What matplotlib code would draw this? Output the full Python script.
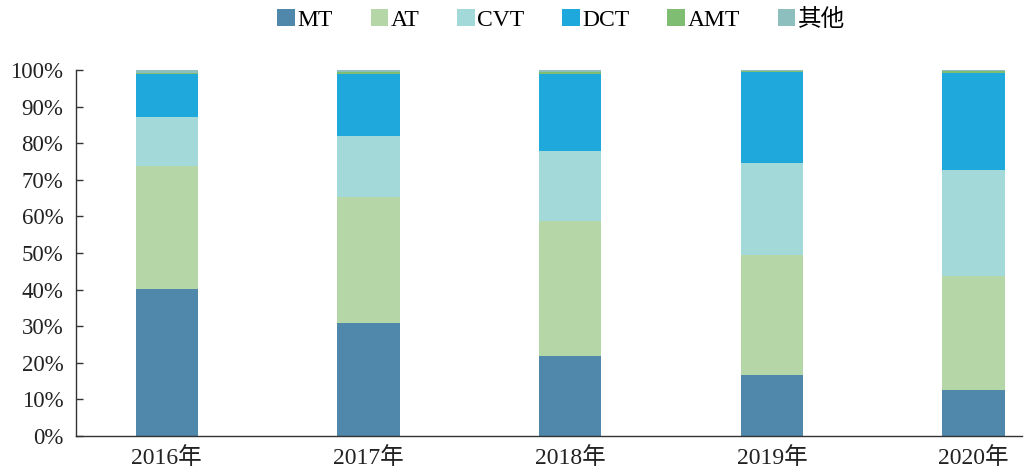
import matplotlib
matplotlib.use("Agg")
import matplotlib.pyplot as plt
import numpy as np

plt.rcParams['font.family'] = ['Liberation Serif', 'Noto Sans CJK SC']

years = ['2016年', '2017年', '2018年', '2019年', '2020年']
series_names = ['MT', 'AT', 'CVT', 'DCT', 'AMT', '其他']
MT = [40.2, 30.9, 21.9, 16.7, 12.6]
AT = [33.7, 34.4, 36.8, 32.8, 31.1]
CVT = [13.2, 16.7, 19.2, 25.1, 29.0]
DCT = [11.7, 16.9, 21.0, 24.9, 26.5]
AMT = [0.5, 0.6, 0.6, 0.1, 0.4]
OTHER = [0.7, 0.5, 0.5, 0.4, 0.4]
colors = ['#4f88ab', '#b5d7a8', '#a3d9d8', '#1fa8dc', '#7fbd72', '#8dbfbe']

fig = plt.figure(figsize=(10.24, 4.70), dpi=100)
ax = fig.add_axes([76/1024, 1-436/470, (1022-76)/1024, (436-70)/470])

x = np.arange(len(years))
bottom = np.zeros(len(years))
handles = []
for name, vals, c in zip(series_names, [MT, AT, CVT, DCT, AMT, OTHER], colors):
    v = np.array(vals) / 100.0
    b = ax.bar(x, v, bottom=bottom, width=0.31, color=c, edgecolor='none', linewidth=0, label=name)
    handles.append(b)
    bottom += v

ax.set_xlim(-0.45, 4.24)
ax.set_ylim(0, 1)
ax.set_yticks(np.arange(0, 1.01, 0.1))
ax.set_yticklabels([f'{int(round(t*100))}%' for t in np.arange(0, 1.01, 0.1)], fontsize=16.5, color='#222222')
ax.set_xticks(x)
ax.set_xticklabels(years, fontsize=17, color='#222222')
ax.tick_params(axis='x', length=0, pad=8)
ax.tick_params(axis='y', direction='in', length=5, width=1, color='#333333', pad=9)
for s in ['top', 'right']:
    ax.spines[s].set_visible(False)
for s in ['left', 'bottom']:
    ax.spines[s].set_color('#333333')
    ax.spines[s].set_linewidth(1)

fig.legend(handles=handles, labels=series_names, loc='center', bbox_to_anchor=(0.548, 1-20/470),
           ncol=6, frameon=False, fontsize=17, handlelength=0.75, handleheight=0.75,
           handletextpad=0.1, columnspacing=1.6)

fig.savefig('out.png', dpi=100)
